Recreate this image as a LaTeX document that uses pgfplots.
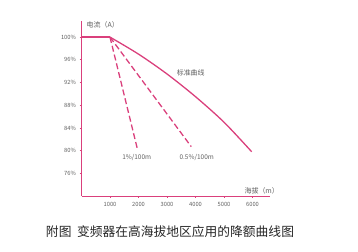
\documentclass[border=0pt]{standalone}
\usepackage{pgfplots}
\pgfplotsset{compat=1.18}
\usepackage{fontspec}
\setmainfont{Noto Sans CJK SC}
\definecolor{pk}{RGB}{218,64,124}
\definecolor{tk}{RGB}{95,95,95}
\begin{document}
\begin{tikzpicture}
\useasboundingbox (0,0) rectangle (358bp,252bp);
\begin{axis}[
  at={(81.5bp,56bp)}, anchor=south west,
  x=0.0285bp, y=5.675bp,
  xmin=0, xmax=6600, ymin=72, ymax=102.8,
  axis x line=bottom, axis y line=left,
  axis line style={pk, line width=1pt, -},
  xtick={1000,2000,3000,4000,5000,6000},
  xticklabels={1000,2000,3000,4000,5000,6000},
  ytick={76,80,84,88,92,96,100},
  yticklabels={76\%,80\%,84\%,88\%,92\%,96\%,100\%},
  tick style={pk, line width=0.6pt},
  major tick length=2bp, tick align=outside,
  ticklabel style={font=\fontsize{5.8}{6}\selectfont, text=tk},
  xticklabel style={yshift=-1bp},
  clip=false,
]
\addplot[pk, line width=1.3pt] coordinates {(0,100) (1000,100)};
\addplot[pk, line width=1.3pt, smooth, tension=0.5] coordinates {(1000,100) (2000,97.0) (3000,93.5) (4000,89.5) (5000,85.0) (5970,79.8)};
\addplot[pk, line width=1.3pt, dash pattern=on 6bp off 3bp] coordinates {(1000,100) (1960,80.3)};
\addplot[pk, line width=1.3pt, dash pattern=on 6bp off 3bp] coordinates {(1000,100) (3850,80.7)};
\node[font=\fontsize{7}{8}\selectfont, text=tk] at (axis cs:3832,93.73) {标准曲线};
\node[font=\fontsize{6.5}{8}\selectfont, text=tk] at (axis cs:1937,78.7) {1\%/100m};
\node[font=\fontsize{6.5}{8}\selectfont, text=tk] at (axis cs:4042,78.75) {0.5\%/100m};
\node[font=\fontsize{7}{8}\selectfont, text=tk, anchor=west] at (axis cs:60,102.1) {电流（A）};
\node[font=\fontsize{7}{8}\selectfont, text=tk] at (axis cs:6323,72.93) {海拔（m）};
\end{axis}
\node[font=\fontsize{12.8}{14}\selectfont, text=black!85] at (170bp,20.3bp) {附图\ \ 变频器在高海拔地区应用的降额曲线图};
\end{tikzpicture}
\end{document}
